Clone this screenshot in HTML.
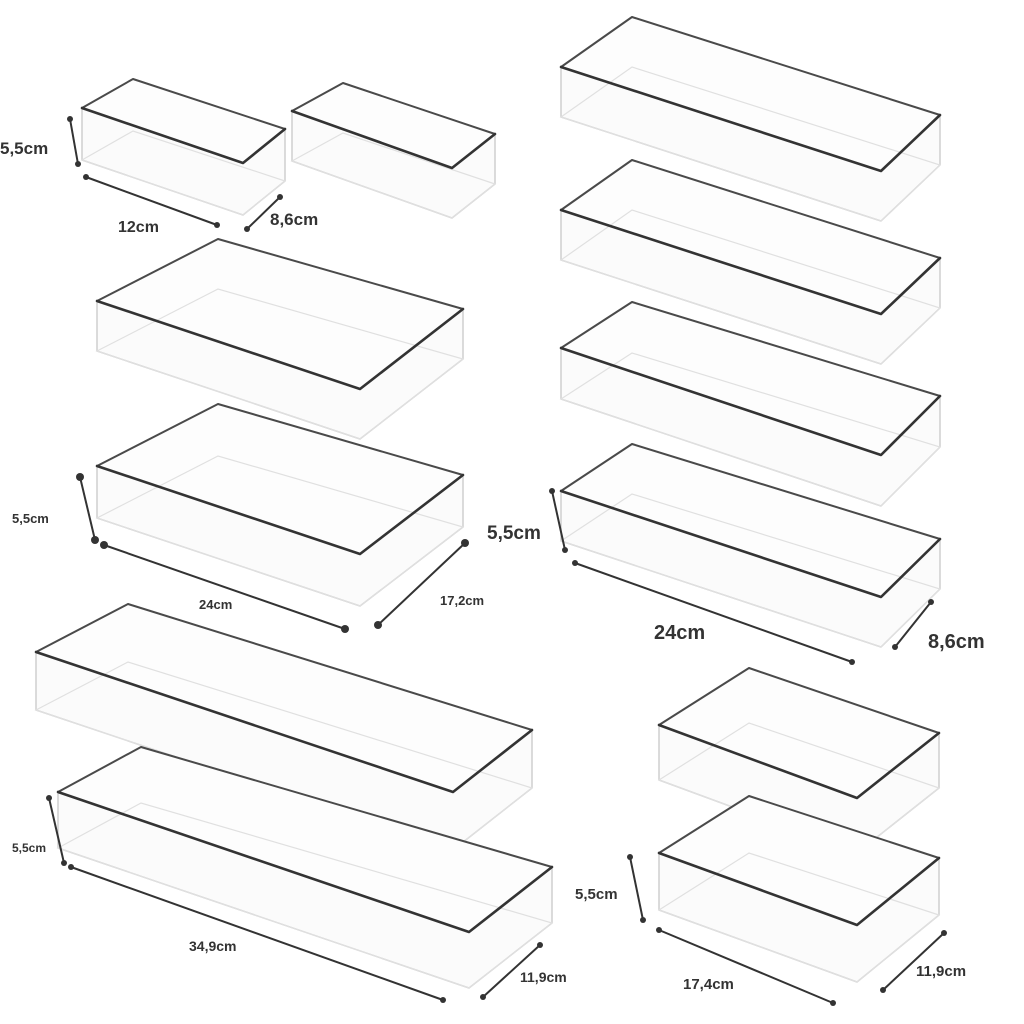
<!DOCTYPE html>
<html><head><meta charset="utf-8"><style>
html,body{margin:0;padding:0;background:#fff}
svg{display:block}
text{font-family:"Liberation Sans",sans-serif;font-weight:bold;fill:#333}
.b{fill:#fbfbfb;stroke:#cfcfcf;stroke-width:1.5;stroke-linejoin:round}
.t{fill:#fdfdfd;stroke:none}
.f{fill:none;stroke:#e0e0e0;stroke-width:1.2}
.k{fill:none;stroke:#4a4a4a;stroke-width:2;stroke-linejoin:round}
.r{fill:none;stroke:#333;stroke-width:2.6;stroke-linejoin:round;stroke-linecap:round}
.d{stroke:#333;stroke-width:2;fill:none}
.p{fill:#333}
</style></head><body>
<svg width="1024" height="1024" viewBox="0 0 1024 1024" xmlns="http://www.w3.org/2000/svg">
<!-- A -->
<polygon class="b" points="82,108 243,163 285,129 285,181 243,215 82,160"/>
<polygon class="t" points="82,108 133,79 285,129 243,163"/>
<polygon class="f" points="82,160 133,131 285,181 243,215"/>
<polyline class="k" points="82,108 133,79 285,129"/>
<polyline class="r" points="82,108 243,163 285,129"/>
<!-- B -->
<polygon class="b" points="292,111 452,168 495,134 495,184 452,218 292,161"/>
<polygon class="t" points="292,111 343,83 495,134 452,168"/>
<polygon class="f" points="292,161 343,133 495,184 452,218"/>
<polyline class="k" points="292,111 343,83 495,134"/>
<polyline class="r" points="292,111 452,168 495,134"/>
<!-- C -->
<polygon class="b" points="97,301 360,389 463,309 463,359 360,439 97,351"/>
<polygon class="t" points="97,301 218,239 463,309 360,389"/>
<polygon class="f" points="97,351 218,289 463,359 360,439"/>
<polyline class="k" points="97,301 218,239 463,309"/>
<polyline class="r" points="97,301 360,389 463,309"/>
<!-- D -->
<polygon class="b" points="97,466 360,554 463,475 463,527 360,606 97,518"/>
<polygon class="t" points="97,466 218,404 463,475 360,554"/>
<polygon class="f" points="97,518 218,456 463,527 360,606"/>
<polyline class="k" points="97,466 218,404 463,475"/>
<polyline class="r" points="97,466 360,554 463,475"/>
<!-- R1 -->
<polygon class="b" points="561,67 881,171 940,115 940,165 881,221 561,117"/>
<polygon class="t" points="561,67 632,17 940,115 881,171"/>
<polygon class="f" points="561,117 632,67 940,165 881,221"/>
<polyline class="k" points="561,67 632,17 940,115"/>
<polyline class="r" points="561,67 881,171 940,115"/>
<!-- R2 -->
<polygon class="b" points="561,210 881,314 940,258 940,308 881,364 561,260"/>
<polygon class="t" points="561,210 632,160 940,258 881,314"/>
<polygon class="f" points="561,260 632,210 940,308 881,364"/>
<polyline class="k" points="561,210 632,160 940,258"/>
<polyline class="r" points="561,210 881,314 940,258"/>
<!-- R3 -->
<polygon class="b" points="561,348 881,455 940,396 940,447 881,506 561,399"/>
<polygon class="t" points="561,348 632,302 940,396 881,455"/>
<polygon class="f" points="561,399 632,353 940,447 881,506"/>
<polyline class="k" points="561,348 632,302 940,396"/>
<polyline class="r" points="561,348 881,455 940,396"/>
<!-- R4 -->
<polygon class="b" points="561,491 881,597 940,539 940,589 881,647 561,541"/>
<polygon class="t" points="561,491 632,444 940,539 881,597"/>
<polygon class="f" points="561,541 632,494 940,589 881,647"/>
<polyline class="k" points="561,491 632,444 940,539"/>
<polyline class="r" points="561,491 881,597 940,539"/>
<!-- E -->
<polygon class="b" points="36,652 453,792 532,730 532,788 453,850 36,710"/>
<polygon class="t" points="36,652 128,604 532,730 453,792"/>
<polygon class="f" points="36,710 128,662 532,788 453,850"/>
<polyline class="k" points="36,652 128,604 532,730"/>
<polyline class="r" points="36,652 453,792 532,730"/>
<!-- F -->
<polygon class="b" points="58,792 469,932 552,867 552,923 469,988 58,848"/>
<polygon class="t" points="58,792 141,747 552,867 469,932"/>
<polygon class="f" points="58,848 141,803 552,923 469,988"/>
<polyline class="k" points="58,792 141,747 552,867"/>
<polyline class="r" points="58,792 469,932 552,867"/>
<!-- G -->
<polygon class="b" points="659,725 857,798 939,733 939,788 857,853 659,780"/>
<polygon class="t" points="659,725 749,668 939,733 857,798"/>
<polygon class="f" points="659,780 749,723 939,788 857,853"/>
<polyline class="k" points="659,725 749,668 939,733"/>
<polyline class="r" points="659,725 857,798 939,733"/>
<!-- H -->
<polygon class="b" points="659,853 857,925 939,858 939,915 857,982 659,910"/>
<polygon class="t" points="659,853 749,796 939,858 857,925"/>
<polygon class="f" points="659,910 749,853 939,915 857,982"/>
<polyline class="k" points="659,853 749,796 939,858"/>
<polyline class="r" points="659,853 857,925 939,858"/>

<!-- dimension lines -->
<g class="d">
<line x1="70" y1="119" x2="78" y2="164"/>
<line x1="86" y1="177" x2="217" y2="225"/>
<line x1="280" y1="197" x2="247" y2="229"/>
<line x1="80" y1="477" x2="95" y2="540"/>
<line x1="104" y1="545" x2="345" y2="629"/>
<line x1="465" y1="543" x2="378" y2="625"/>
<line x1="552" y1="491" x2="565" y2="550"/>
<line x1="575" y1="563" x2="852" y2="662"/>
<line x1="931" y1="602" x2="895" y2="647"/>
<line x1="49" y1="798" x2="64" y2="863"/>
<line x1="71" y1="867" x2="443" y2="1000"/>
<line x1="540" y1="945" x2="483" y2="997"/>
<line x1="630" y1="857" x2="643" y2="920"/>
<line x1="659" y1="930" x2="833" y2="1003"/>
<line x1="944" y1="933" x2="883" y2="990"/>
</g>
<g class="p">
<circle cx="70" cy="119" r="3"/><circle cx="78" cy="164" r="3"/>
<circle cx="86" cy="177" r="3"/><circle cx="217" cy="225" r="3"/>
<circle cx="280" cy="197" r="3"/><circle cx="247" cy="229" r="3"/>
<circle cx="80" cy="477" r="4"/><circle cx="95" cy="540" r="4"/>
<circle cx="104" cy="545" r="4"/><circle cx="345" cy="629" r="4"/>
<circle cx="465" cy="543" r="4"/><circle cx="378" cy="625" r="4"/>
<circle cx="552" cy="491" r="3"/><circle cx="565" cy="550" r="3"/>
<circle cx="575" cy="563" r="3"/><circle cx="852" cy="662" r="3"/>
<circle cx="931" cy="602" r="3"/><circle cx="895" cy="647" r="3"/>
<circle cx="49" cy="798" r="3"/><circle cx="64" cy="863" r="3"/>
<circle cx="71" cy="867" r="3"/><circle cx="443" cy="1000" r="3"/>
<circle cx="540" cy="945" r="3"/><circle cx="483" cy="997" r="3"/>
<circle cx="630" cy="857" r="3"/><circle cx="643" cy="920" r="3"/>
<circle cx="659" cy="930" r="3"/><circle cx="833" cy="1003" r="3"/>
<circle cx="944" cy="933" r="3"/><circle cx="883" cy="990" r="3"/>
</g>

<!-- labels -->
<text x="0" y="154" font-size="17">5,5cm</text>
<text x="118" y="232" font-size="16">12cm</text>
<text x="270" y="225" font-size="17">8,6cm</text>
<text x="12" y="523" font-size="13">5,5cm</text>
<text x="199" y="609" font-size="13">24cm</text>
<text x="440" y="605" font-size="13">17,2cm</text>
<text x="487" y="539" font-size="19">5,5cm</text>
<text x="654" y="639" font-size="20">24cm</text>
<text x="928" y="648" font-size="20">8,6cm</text>
<text x="12" y="852" font-size="12">5,5cm</text>
<text x="189" y="951" font-size="14">34,9cm</text>
<text x="520" y="982" font-size="14">11,9cm</text>
<text x="575" y="899" font-size="15">5,5cm</text>
<text x="683" y="989" font-size="15">17,4cm</text>
<text x="916" y="976" font-size="15">11,9cm</text>
</svg>
</body></html>
